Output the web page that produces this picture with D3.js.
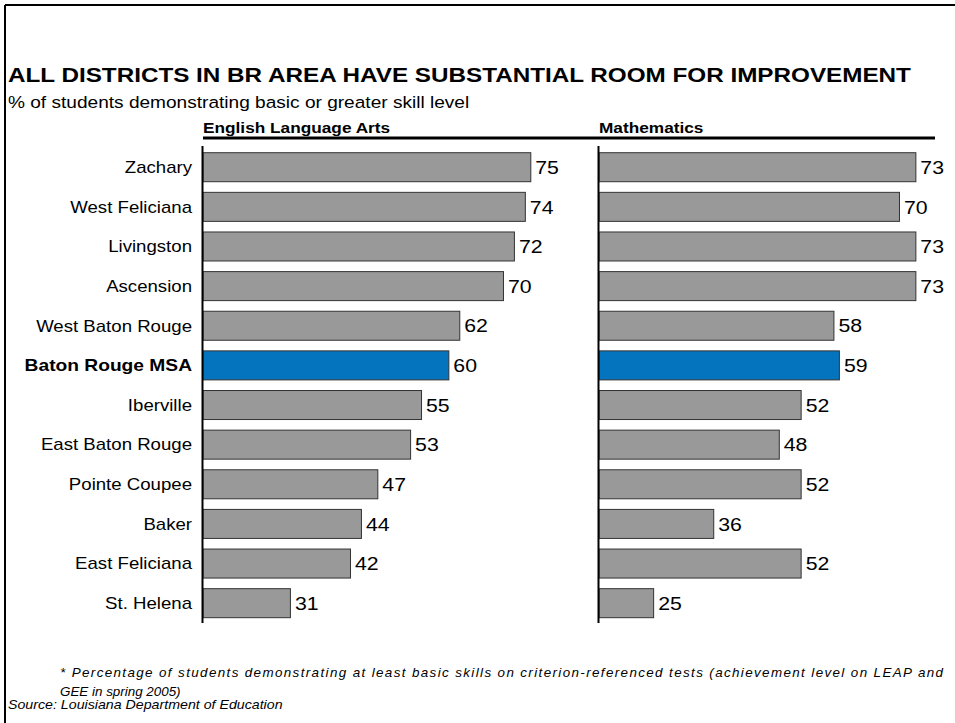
<!DOCTYPE html>
<html>
<head>
<meta charset="utf-8">
<script src="https://cdn.jsdelivr.net/npm/d3@7"></script>
<style>
  html, body { margin: 0; padding: 0; background: #fff; }
  svg { display: block; }
  text { font-family: "Liberation Sans", Arial, Helvetica, sans-serif; fill: #000; }
</style>
</head>
<body>
<svg id="chart" width="955" height="723"></svg>
<script>
// District names, top to bottom
const districts = [
  "Zachary", "West Feliciana", "Livingston", "Ascension", "West Baton Rouge",
  "Baton Rouge MSA", "Iberville", "East Baton Rouge", "Pointe Coupee",
  "Baker", "East Feliciana", "St. Helena"
];
// % of students at basic level or above
const elaValues  = [75, 74, 72, 70, 62, 60, 55, 53, 47, 44, 42, 31];
const mathValues = [73, 70, 73, 73, 58, 59, 52, 48, 52, 36, 52, 25];
const highlight = "Baton Rouge MSA";
const panelTitles = ["English Language Arts", "Mathematics"];

const titleText = "ALL DISTRICTS IN BR AREA HAVE SUBSTANTIAL ROOM FOR IMPROVEMENT";
const subtitleText = "% of students demonstrating basic or greater skill level";
const footnoteLines = [
  "* Percentage of students demonstrating at least basic skills on criterion-referenced tests (achievement level on LEAP and",
  "GEE in spring 2005)"
];
const sourceText = "Source: Louisiana Department of Education";

const svg = d3.select("#chart");
const STRETCH = 1.15;   // text is set slightly wide

function label(g, x, y, str, opts = {}) {
  const t = g.append("text")
    .attr("transform", `translate(${x},${y}) scale(${opts.sx || STRETCH},1)`)
    .attr("font-size", opts.size || 16)
    .attr("font-weight", opts.weight || "normal")
    .attr("font-style", opts.style || "normal")
    .attr("text-anchor", opts.anchor || "start")
    .text(str);
  if (opts.dy) t.attr("dy", opts.dy);
  return t;
}

// frame
svg.append("line").attr("x1", 5).attr("x2", 955).attr("y1", 5).attr("y2", 5)
  .attr("stroke", "#000").attr("stroke-width", 2);
svg.append("line").attr("x1", 5).attr("x2", 5).attr("y1", 5).attr("y2", 723)
  .attr("stroke", "#000").attr("stroke-width", 2);

// headings
label(svg, 8, 82, titleText, { size: 21.1, weight: "bold" });
label(svg, 8, 108, subtitleText, { size: 16.6 });

// shared scales
const y = d3.scaleBand().domain(districts).range([147.4, 623]).paddingInner(0.268).paddingOuter(0.134);
const panelX = [203, 599];
const x = d3.scaleLinear().domain([15, 75]).range([0, 327.8]);

// header rule across both panels
svg.append("line").attr("x1", 203).attr("x2", 935).attr("y1", 138).attr("y2", 138)
  .attr("stroke", "#000").attr("stroke-width", 3);

[elaValues, mathValues].forEach((vals, i) => {
  const g = svg.append("g").attr("transform", `translate(${panelX[i]},0)`);
  label(g, 0, 133, panelTitles[i], { size: 15, weight: "bold" });

  const rows = districts.map((d, k) => ({ name: d, value: vals[k] }));

  g.selectAll("rect.bar").data(rows).enter().append("rect")
    .attr("class", "bar")
    .attr("x", 0)
    .attr("y", d => y(d.name))
    .attr("width", d => x(d.value))
    .attr("height", y.bandwidth())
    .attr("fill", d => d.name === highlight ? "#0574be" : "#999999")
    .attr("stroke", "#333")
    .attr("stroke-width", 1);

  rows.forEach(d => {
    label(g, x(d.value) + 4.5, y(d.name) + y.bandwidth() / 2, String(d.value), { size: 18.5, dy: "0.36em" });
  });

  // value axis line
  g.append("line").attr("x1", -0.5).attr("x2", -0.5).attr("y1", 146).attr("y2", 623)
    .attr("stroke", "#000").attr("stroke-width", 2);
});

// category labels
districts.forEach(d => {
  const bold = d === highlight;
  label(svg, 192, y(d) + y.bandwidth() / 2, d, {
    size: bold ? 16.7 : 16.2, anchor: "end", dy: "0.36em",
    weight: bold ? "bold" : "normal"
  });
});

// notes: first footnote line runs to the right margin
label(svg, 60, 677, footnoteLines[0], { size: 13.4, style: "italic", sx: 1.0 })
  .attr("textLength", 883).attr("lengthAdjust", "spacing");
label(svg, 60, 696, footnoteLines[1], { size: 13.4, style: "italic", sx: 1.0 });
label(svg, 8, 709, sourceText, { size: 13.4, style: "italic", sx: 1.06 });
</script>
</body>
</html>
